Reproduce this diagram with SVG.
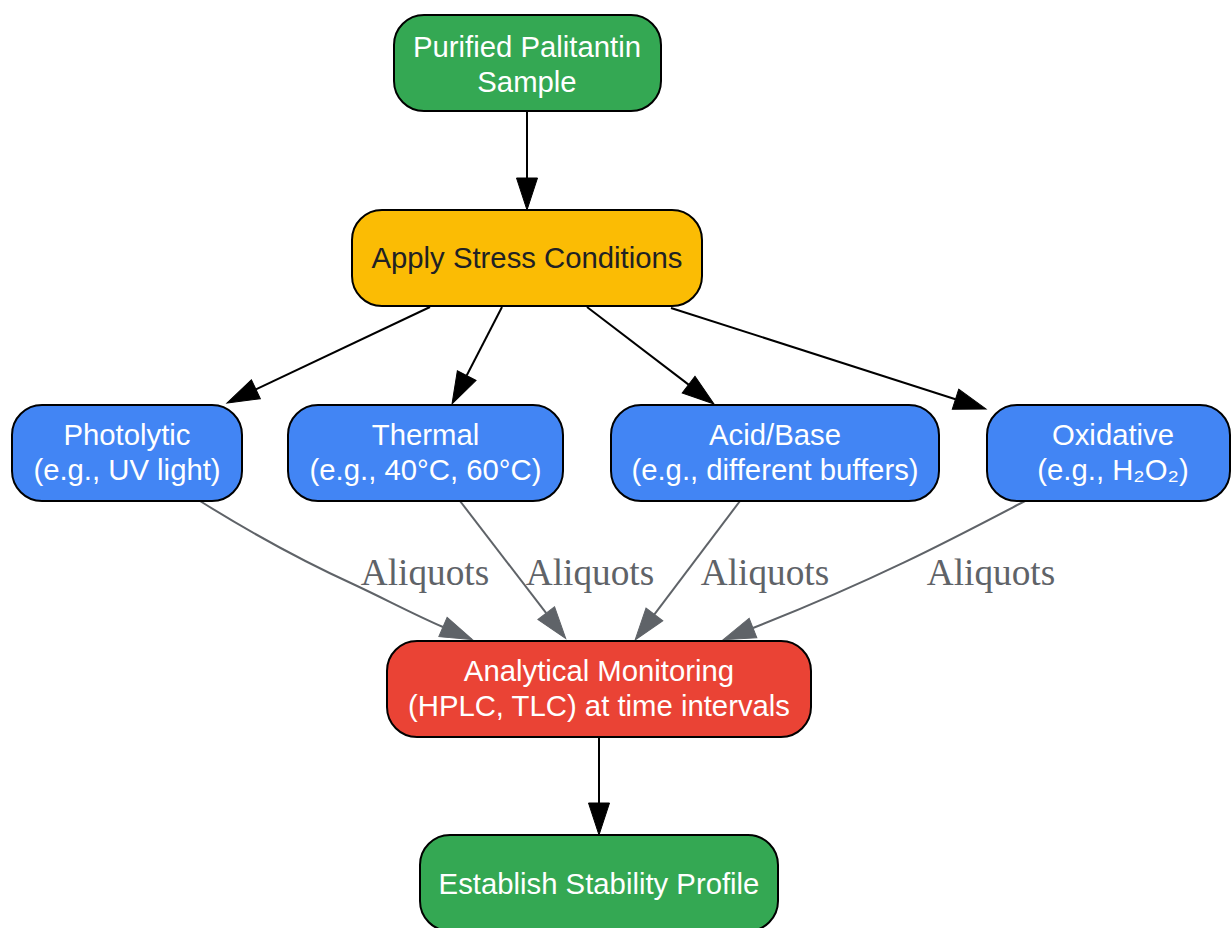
<svg xmlns="http://www.w3.org/2000/svg" width="1231" height="928" viewBox="0 0 1231 928">
<style>
.box{stroke:#000;stroke-width:2}
.t{font-family:"Liberation Sans",Arial,sans-serif;font-size:29.3px;text-anchor:middle;fill:#fff}
.dark{fill:#202124}
.e{fill:none;stroke:#000;stroke-width:2}
.g{fill:none;stroke:#5f6368;stroke-width:2}
.lbl{font-family:"Liberation Serif","Times New Roman",serif;font-size:37.3px;fill:#5f6368;text-anchor:middle}
</style>
<defs>
<marker id="ab" markerUnits="userSpaceOnUse" markerWidth="32" markerHeight="22" viewBox="0 0 32 22" refX="0" refY="11" orient="auto" overflow="visible">
<path d="M0,0.5 L32,11 L0,21.5 z" fill="#000" stroke="#000" stroke-width="1"/>
</marker>
<marker id="ag" markerUnits="userSpaceOnUse" markerWidth="32" markerHeight="22" viewBox="0 0 32 22" refX="0" refY="11" orient="auto" overflow="visible">
<path d="M0,0.5 L32,11 L0,21.5 z" fill="#5f6368" stroke="#5f6368" stroke-width="1"/>
</marker>
</defs>
<rect width="1231" height="928" fill="#fff"/>
<g id="connectors">
<path class="e" d="M527,111 L527,178" marker-end="url(#ab)"/>
<path class="e" d="M430,307 L255.9,389.3" marker-end="url(#ab)"/>
<path class="e" d="M502,307 L466.7,375.5" marker-end="url(#ab)"/>
<path class="e" d="M587,307 L688.6,384.6" marker-end="url(#ab)"/>
<path class="e" d="M671,308 L955.5,399.2" marker-end="url(#ab)"/>
<path class="g" d="M200,501 C240,526 300,560 355,585 C385,599 415,615 443,627" marker-end="url(#ag)"/>
<path class="g" d="M460,501 L546.2,613.1" marker-end="url(#ag)"/>
<path class="g" d="M740,501 L654.4,614.4" marker-end="url(#ag)"/>
<path class="g" d="M1025,501 C960,535 880,578 753,628" marker-end="url(#ag)"/>
<path class="e" d="M599,737 L599,803" marker-end="url(#ab)"/>
<text class="lbl" x="425" y="585">Aliquots</text>
<text class="lbl" x="590" y="585">Aliquots</text>
<text class="lbl" x="765" y="585">Aliquots</text>
<text class="lbl" x="991" y="585">Aliquots</text>
</g>
<g id="purified">
<rect class="box" x="394" y="15" width="267" height="96" rx="30" fill="#34a853"/>
<text class="t" x="527" y="57">Purified Palitantin</text>
<text class="t" x="527" y="92">Sample</text>
</g>
<g id="stress">
<rect class="box" x="352" y="210" width="350" height="96" rx="30" fill="#fbbc04"/>
<text class="t dark" x="527" y="268">Apply Stress Conditions</text>
</g>
<g id="photolytic">
<rect class="box" x="12" y="405" width="230" height="96" rx="30" fill="#4285f4"/>
<text class="t" x="127" y="445">Photolytic</text>
<text class="t" x="127" y="480">(e.g., UV light)</text>
</g>
<g id="thermal">
<rect class="box" x="288" y="405" width="275" height="96" rx="30" fill="#4285f4"/>
<text class="t" x="425.5" y="445">Thermal</text>
<text class="t" x="425.5" y="480">(e.g., 40°C, 60°C)</text>
</g>
<g id="acidbase">
<rect class="box" x="611" y="405" width="328" height="96" rx="30" fill="#4285f4"/>
<text class="t" x="775" y="445">Acid/Base</text>
<text class="t" x="775" y="480">(e.g., different buffers)</text>
</g>
<g id="oxidative">
<rect class="box" x="987" y="405" width="243" height="96" rx="30" fill="#4285f4"/>
<text class="t" x="1113" y="445">Oxidative</text>
<text class="t" x="1113" y="480">(e.g., H₂O₂)</text>
</g>
<g id="monitoring">
<rect class="box" x="387" y="641" width="424" height="96" rx="30" fill="#ea4335"/>
<text class="t" x="599" y="681">Analytical Monitoring</text>
<text class="t" x="599" y="716">(HPLC, TLC) at time intervals</text>
</g>
<g id="profile">
<rect class="box" x="420" y="835" width="358" height="96" rx="30" fill="#34a853"/>
<text class="t" x="599" y="894">Establish Stability Profile</text>
</g>
</svg>
